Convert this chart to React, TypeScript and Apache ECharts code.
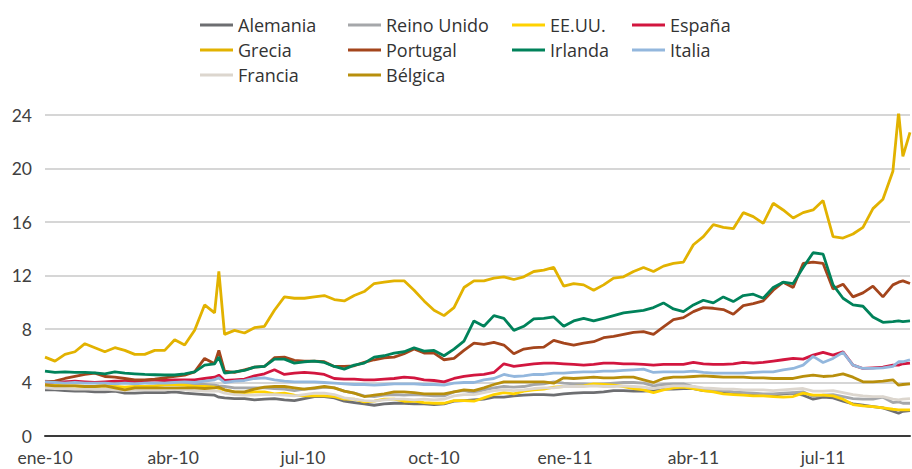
import React, { useEffect, useRef } from "react";
import * as echarts from "echarts";

const FONT = "'Open Sans', 'DejaVu Sans', sans-serif";
const TICK_FONT = "Lato, 'Open Sans', sans-serif";

// x grid (weekly, plus a few extra days at spikes)
const dates = [
  "2010-01-01", "2010-01-08", "2010-01-15", "2010-01-22", "2010-01-29", "2010-02-05", "2010-02-12", "2010-02-19", "2010-02-26", "2010-03-05",
  "2010-03-12", "2010-03-19", "2010-03-26", "2010-04-02", "2010-04-09", "2010-04-16", "2010-04-23", "2010-04-30", "2010-05-03", "2010-05-07",
  "2010-05-14", "2010-05-21", "2010-05-28", "2010-06-04", "2010-06-11", "2010-06-18", "2010-06-25", "2010-07-02", "2010-07-09", "2010-07-16",
  "2010-07-23", "2010-07-30", "2010-08-06", "2010-08-13", "2010-08-20", "2010-08-27", "2010-09-03", "2010-09-10", "2010-09-17", "2010-09-24",
  "2010-10-01", "2010-10-08", "2010-10-15", "2010-10-22", "2010-10-29", "2010-11-05", "2010-11-12", "2010-11-19", "2010-11-26", "2010-12-03",
  "2010-12-10", "2010-12-17", "2010-12-24", "2010-12-31", "2011-01-07", "2011-01-14", "2011-01-21", "2011-01-28", "2011-02-04", "2011-02-11",
  "2011-02-18", "2011-02-25", "2011-03-04", "2011-03-11", "2011-03-18", "2011-03-25", "2011-04-01", "2011-04-08", "2011-04-15", "2011-04-22",
  "2011-04-29", "2011-05-06", "2011-05-13", "2011-05-20", "2011-05-27", "2011-06-03", "2011-06-10", "2011-06-17", "2011-06-24", "2011-07-01",
  "2011-07-08", "2011-07-15", "2011-07-22", "2011-07-29", "2011-08-05", "2011-08-12", "2011-08-19", "2011-08-23", "2011-08-26", "2011-08-31",
];

const alemania = [
  3.45, 3.45, 3.4, 3.35, 3.35, 3.3, 3.3, 3.35, 3.2, 3.2,
  3.25, 3.25, 3.25, 3.3, 3.2, 3.15, 3.1, 3.05, 2.9, 2.85,
  2.8, 2.8, 2.7, 2.75, 2.8, 2.7, 2.65, 2.8, 2.95, 2.95,
  2.85, 2.6, 2.5, 2.4, 2.3, 2.4, 2.45, 2.45, 2.4, 2.4,
  2.35, 2.4, 2.6, 2.65, 2.7, 2.75, 2.9, 2.9, 3.0, 3.05,
  3.1, 3.1, 3.05, 3.15, 3.2, 3.25, 3.25, 3.3, 3.4, 3.4,
  3.35, 3.35, 3.4, 3.5, 3.5, 3.55, 3.55, 3.4, 3.35, 3.3,
  3.25, 3.2, 3.15, 3.1, 3.05, 3.15, 3.2, 3.05, 2.75, 2.9,
  2.85, 2.6, 2.4, 2.3, 2.2, 2.1, 1.85, 1.7, 1.85, 1.9,
];

const reinoUnido = [
  4.1, 4.05, 4.05, 4.0, 4.0, 4.0, 3.95, 4.0, 4.0, 4.0,
  4.0, 3.95, 4.0, 4.0, 3.95, 3.9, 3.85, 3.8, 3.75, 3.7,
  3.6, 3.6, 3.6, 3.6, 3.55, 3.5, 3.4, 3.5, 3.55, 3.65,
  3.6, 3.35, 3.2, 3.0, 2.95, 3.05, 3.1, 3.05, 3.1, 3.05,
  3.0, 3.0, 3.3, 3.4, 3.25, 3.45, 3.6, 3.7, 3.65, 3.7,
  3.85, 3.9, 4.05, 3.95, 3.9, 3.9, 3.85, 3.9, 3.95, 4.0,
  4.0, 3.95, 3.75, 3.85, 3.9, 3.9, 3.7, 3.5, 3.45, 3.4,
  3.3, 3.25, 3.2, 3.15, 3.15, 3.2, 3.25, 3.3, 2.95, 3.05,
  3.1, 2.95, 2.8, 2.75, 2.75, 2.9, 2.5, 2.55, 2.45, 2.45,
];

const eeuu = [
  3.85, 3.8, 3.75, 3.75, 3.7, 3.7, 3.75, 3.7, 3.65, 3.7,
  3.7, 3.75, 3.85, 3.85, 3.8, 3.7, 3.7, 3.65, 3.55, 3.45,
  3.3, 3.25, 3.3, 3.3, 3.15, 3.2, 3.05, 3.0, 3.0, 3.0,
  2.95, 2.75, 2.75, 2.55, 2.6, 2.75, 2.75, 2.6, 2.6, 2.5,
  2.45, 2.45, 2.65, 2.65, 2.6, 2.85, 3.1, 3.25, 3.15, 3.35,
  3.45, 3.5, 3.65, 3.7, 3.7, 3.75, 3.9, 3.85, 3.8, 3.7,
  3.55, 3.45, 3.25, 3.45, 3.6, 3.65, 3.55, 3.4, 3.3, 3.15,
  3.1, 3.05, 3.0, 3.0, 2.95, 2.9, 2.95, 3.2, 3.05, 3.05,
  3.0, 2.75, 2.35, 2.25, 2.2, 2.1, 2.0, 1.95, 1.95, 1.95,
];

const espana = [
  4.05, 4.0, 4.05, 4.1, 4.05, 4.0, 4.05, 4.1, 4.1, 4.1,
  4.15, 4.2, 4.15, 4.2, 4.2, 4.2, 4.3, 4.4, 4.55, 4.15,
  4.2, 4.25, 4.5, 4.65, 4.95, 4.6, 4.7, 4.75, 4.7, 4.6,
  4.3, 4.25, 4.25, 4.2, 4.2, 4.25, 4.3, 4.4, 4.35, 4.2,
  4.15, 4.05, 4.3, 4.45, 4.55, 4.6, 4.75, 5.4, 5.2, 5.3,
  5.4, 5.45, 5.45, 5.4, 5.35, 5.3, 5.35, 5.45, 5.45, 5.4,
  5.4, 5.35, 5.3, 5.35, 5.35, 5.35, 5.5, 5.4, 5.35, 5.35,
  5.4, 5.5, 5.45, 5.5, 5.6, 5.7, 5.8, 5.75, 6.05, 6.25,
  6.05, 6.3, 5.3, 5.05, 5.1, 5.15, 5.3, 5.3, 5.4, 5.45,
];

const grecia = [
  5.9, 5.6, 6.1, 6.3, 6.9, 6.6, 6.3, 6.6, 6.4, 6.1,
  6.1, 6.4, 6.4, 7.2, 6.8, 7.9, 9.8, 9.2, 12.3, 7.6,
  7.9, 7.7, 8.1, 8.2, 9.4, 10.4, 10.3, 10.3, 10.4, 10.5,
  10.2, 10.1, 10.5, 10.8, 11.4, 11.5, 11.6, 11.6, 10.9, 10.1,
  9.4, 9.0, 9.6, 11.1, 11.6, 11.6, 11.8, 11.9, 11.7, 11.9,
  12.3, 12.4, 12.6, 11.2, 11.4, 11.3, 10.9, 11.3, 11.8, 11.9,
  12.3, 12.6, 12.3, 12.7, 12.9, 13.0, 14.3, 14.9, 15.8, 15.6,
  15.5, 16.7, 16.4, 15.9, 17.4, 16.9, 16.3, 16.7, 16.9, 17.6,
  14.9, 14.8, 15.1, 15.6, 17.0, 17.7, 19.8, 24.2, 20.9, 22.7,
];

const portugal = [
  4.05, 4.1, 4.3, 4.45, 4.6, 4.7, 4.45, 4.4, 4.3, 4.2,
  4.2, 4.25, 4.35, 4.45, 4.55, 4.8, 5.8, 5.4, 6.4, 4.85,
  4.75, 4.95, 5.15, 5.2, 5.85, 5.9, 5.65, 5.6, 5.6, 5.55,
  5.2, 5.2, 5.25, 5.5, 5.7, 5.85, 5.9, 6.15, 6.5, 6.2,
  6.2, 5.7, 5.8, 6.4, 6.95, 6.85, 7.0, 6.8, 6.15, 6.5,
  6.6, 6.65, 7.15, 6.95, 6.8, 6.95, 7.05, 7.35, 7.45, 7.6,
  7.75, 7.8, 7.6, 8.15, 8.7, 8.85, 9.3, 9.6, 9.55, 9.45,
  9.1, 9.75, 9.9, 10.1, 10.9, 11.5, 11.1, 12.9, 13.0, 12.9,
  11.0, 11.35, 10.4, 10.7, 11.2, 10.4, 11.3, 11.5, 11.6, 11.4,
];

const irlanda = [
  4.85, 4.75, 4.8, 4.75, 4.75, 4.72, 4.65, 4.8, 4.7, 4.65,
  4.6, 4.58, 4.56, 4.56, 4.65, 4.8, 5.3, 5.4, 5.9, 4.7,
  4.8, 4.9, 5.15, 5.2, 5.75, 5.75, 5.45, 5.55, 5.6, 5.5,
  5.2, 5.0, 5.3, 5.45, 5.9, 6.0, 6.2, 6.3, 6.6, 6.35,
  6.4, 6.0, 6.5, 7.1, 8.6, 8.2, 9.0, 8.8, 7.9, 8.2,
  8.75, 8.8, 8.9, 8.2, 8.6, 8.8, 8.6, 8.8, 9.0, 9.2,
  9.3, 9.4, 9.6, 9.95, 9.5, 9.3, 9.8, 10.15, 9.95, 10.4,
  10.05, 10.5, 10.6, 10.3, 11.1, 11.5, 11.4, 12.6, 13.7, 13.6,
  11.3, 10.3, 9.8, 9.7, 8.9, 8.5, 8.55, 8.6, 8.55, 8.6,
];

const italia = [
  4.05, 4.0, 3.95, 4.0, 3.95, 3.95, 3.95, 3.9, 3.95, 3.9,
  3.95, 3.95, 3.95, 4.0, 4.05, 4.0, 4.1, 4.2, 4.35, 4.0,
  4.1, 4.15, 4.3, 4.35, 4.2, 4.1, 4.05, 4.05, 4.05, 4.0,
  3.95, 3.9, 3.85, 3.85, 3.8, 3.85, 3.9, 3.9, 3.9, 3.85,
  3.85, 3.8, 3.95, 4.0, 4.0, 4.2, 4.3, 4.6, 4.45, 4.5,
  4.6, 4.6, 4.7, 4.7, 4.75, 4.8, 4.8, 4.85, 4.85, 4.9,
  4.95, 5.0, 4.75, 4.8, 4.8, 4.8, 4.85, 4.75, 4.7, 4.7,
  4.7, 4.7, 4.75, 4.8, 4.8, 4.95, 5.05, 5.3, 5.95, 5.5,
  5.8, 6.25, 5.3, 5.05, 5.05, 5.1, 5.2, 5.55, 5.55, 5.7,
];

const francia = [
  3.6, 3.55, 3.55, 3.5, 3.5, 3.5, 3.5, 3.45, 3.4, 3.45,
  3.45, 3.45, 3.45, 3.5, 3.45, 3.4, 3.35, 3.35, 3.35, 3.2,
  3.1, 3.05, 3.05, 3.1, 3.1, 3.05, 3.0, 3.1, 3.2, 3.2,
  3.1, 2.85, 2.75, 2.65, 2.6, 2.7, 2.75, 2.75, 2.7, 2.75,
  2.7, 2.75, 3.0, 3.1, 3.1, 3.25, 3.4, 3.45, 3.4, 3.45,
  3.55, 3.6, 3.6, 3.7, 3.7, 3.7, 3.75, 3.7, 3.7, 3.75,
  3.7, 3.65, 3.55, 3.65, 3.75, 3.75, 3.7, 3.6, 3.55, 3.5,
  3.5, 3.45, 3.45, 3.45, 3.4, 3.45, 3.5, 3.55, 3.35, 3.35,
  3.4, 3.25, 3.1, 3.0, 2.95, 2.95, 2.75, 2.7, 2.75, 2.8,
];

const belgica = [
  3.8, 3.75, 3.75, 3.75, 3.7, 3.7, 3.75, 3.6, 3.45, 3.6,
  3.6, 3.6, 3.6, 3.6, 3.6, 3.6, 3.55, 3.6, 3.65, 3.45,
  3.3, 3.3, 3.5, 3.65, 3.7, 3.7, 3.6, 3.5, 3.6, 3.7,
  3.6, 3.35, 3.2, 2.95, 3.05, 3.15, 3.3, 3.3, 3.25, 3.15,
  3.15, 3.15, 3.3, 3.45, 3.4, 3.6, 3.85, 4.05, 4.05, 4.05,
  4.05, 4.05, 3.95, 4.35, 4.3, 4.35, 4.4, 4.35, 4.35, 4.4,
  4.4, 4.2, 4.0, 4.3, 4.4, 4.4, 4.45, 4.5, 4.45, 4.4,
  4.4, 4.4, 4.35, 4.35, 4.3, 4.3, 4.3, 4.45, 4.55, 4.45,
  4.5, 4.65, 4.4, 4.05, 4.05, 4.1, 4.2, 3.8, 3.85, 3.9,
];

const tickDates = ["2010-01-01", "2010-04-01", "2010-07-01", "2010-10-01", "2011-01-01", "2011-04-01", "2011-07-01"];
const tickLabels = ["ene-10", "abr-10", "jul-10", "oct-10", "ene-11", "abr-11", "jul-11"];

const seriesDefs = [
  { name: "Alemania", data: alemania, color: "#6D6E71" },
  { name: "Reino Unido", data: reinoUnido, color: "#A5A7AA" },
  { name: "EE.UU.", data: eeuu, color: "#FFD200" },
  { name: "España", data: espana, color: "#D2163F" },
  { name: "Grecia", data: grecia, color: "#E2B200" },
  { name: "Portugal", data: portugal, color: "#A4451C" },
  { name: "Irlanda", data: irlanda, color: "#00825A" },
  { name: "Italia", data: italia, color: "#93B7DD" },
  { name: "Francia", data: francia, color: "#DCD6CE" },
  { name: "Bélgica", data: belgica, color: "#B88F0C" },
];

const legendCols = [
  { left: 200, names: ["Alemania", "Grecia", "Francia"] },
  { left: 348, names: ["Reino Unido", "Portugal", "Bélgica"] },
  { left: 512, names: ["EE.UU.", "Irlanda"] },
  { left: 632, names: ["España", "Italia"] },
];

const DAY = 86400000;
// days since 2010-01-01 (UTC based, no timezone issues)
const toDay = (s: string) => {
  const [y, m, d] = s.split("-").map(Number);
  return Math.round((Date.UTC(y, m - 1, d) - Date.UTC(2010, 0, 1)) / DAY);
};

export default function App() {
  const ref = useRef<HTMLDivElement>(null);

  useEffect(() => {
    if (!ref.current) return;
    const chart = echarts.init(ref.current, undefined, { renderer: "svg" });
    const tickDays = tickDates.map(toDay);
    const xs = dates.map(toDay);

    chart.setOption({
      animation: false,
      backgroundColor: "#ffffff",
      textStyle: { fontFamily: FONT },
      grid: { left: 45, right: 2, top: 115, bottom: 33, containLabel: false, outerBoundsMode: "none" },
      legend: legendCols.map((c) => ({
        orient: "vertical",
        left: c.left,
        top: 16,
        padding: 0,
        itemGap: 7,
        itemWidth: 33,
        itemHeight: 3,
        icon: "rect",
        selectedMode: false,
        textStyle: { fontFamily: FONT, fontSize: 18, lineHeight: 18, color: "#333333" },
        data: c.names,
      })),
      xAxis: {
        type: "value",
        min: toDay("2010-01-01"),
        max: toDay("2011-08-31"),
        axisLine: { show: true, onZero: false, lineStyle: { color: "#3a3a3a", width: 2 } },
        axisTick: { show: false },
        splitLine: { show: false },
        axisLabel: {
          customValues: tickDays,
          hideOverlap: false,
          alignMinLabel: "center",
          alignMaxLabel: "center",
          margin: 12.75,
          lineHeight: 17.5,
          fontFamily: TICK_FONT,
          fontSize: 17.5,
          color: "#404040",
          formatter: (v: number) => {
            const i = tickDays.indexOf(v);
            return i >= 0 ? tickLabels[i] : "";
          },
        },
      },
      yAxis: {
        type: "value",
        min: 0,
        max: 24,
        interval: 4,
        axisLine: { show: false },
        axisTick: { show: false },
        axisLabel: { margin: 13, lineHeight: 14, fontFamily: TICK_FONT, fontSize: 17.5, color: "#404040" },
        splitLine: { show: true, lineStyle: { color: "#C8C8C8", width: 1.5 } },
      },
      series: seriesDefs.map((s) => ({
        name: s.name,
        type: "line",
        showSymbol: false,
        symbol: "none",
        color: s.color,
        lineStyle: { width: 2.8, color: s.color },
        data: xs.map((x, i) => [x, s.data[i]]),
      })),
    });

    return () => chart.dispose();
  }, []);

  return (
    <div
      ref={ref}
      style={{ position: "fixed", left: 0, top: 0, width: 912, height: 469 }}
    />
  );
}
